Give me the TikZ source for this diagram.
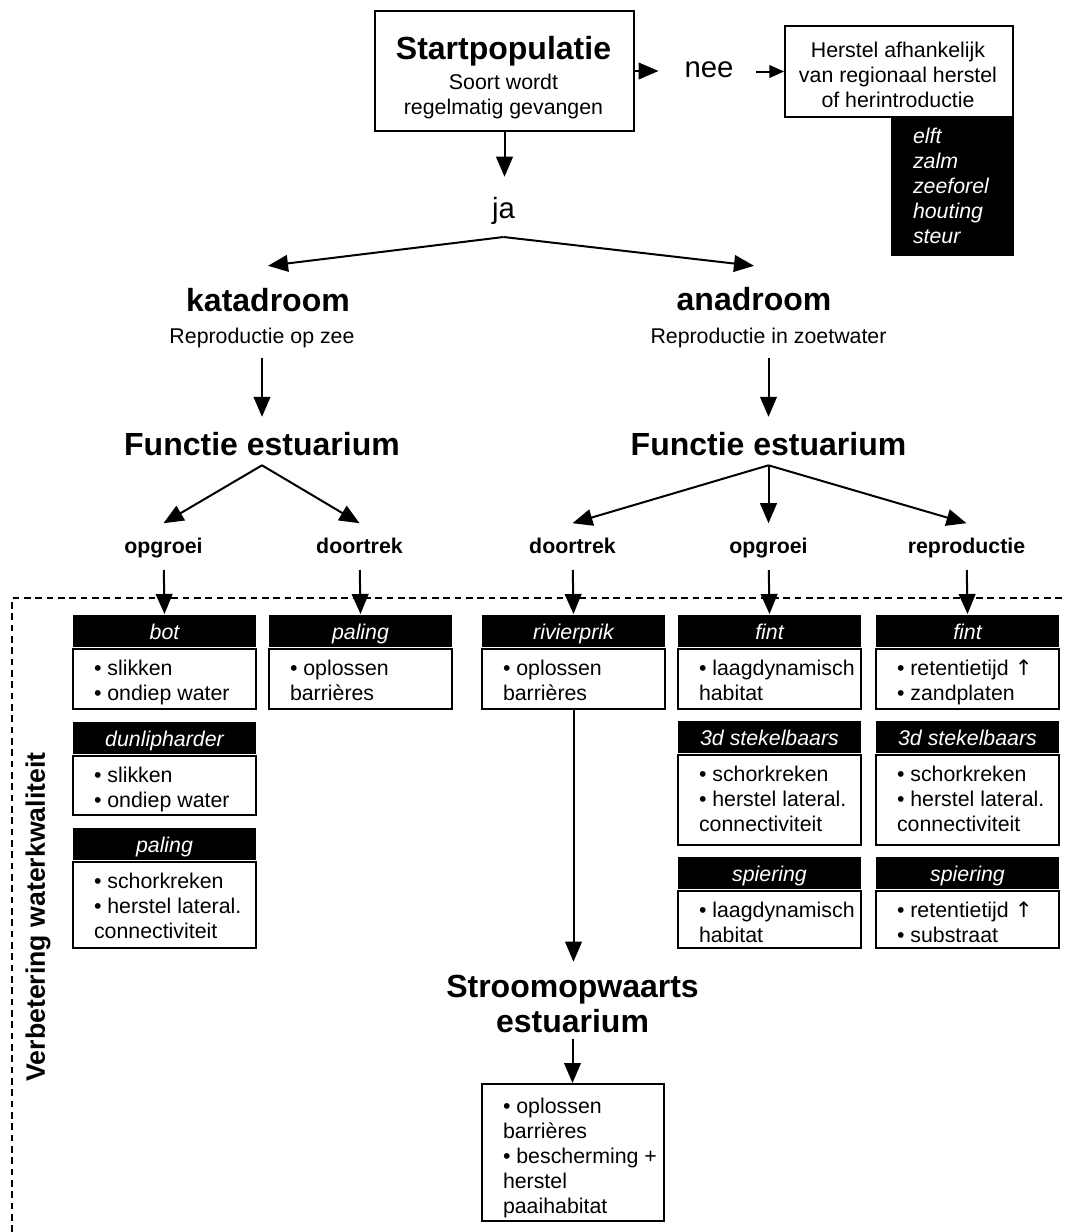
\documentclass[tikz,border=0pt]{standalone}
\usepackage{fontspec}
\setmainfont{Liberation Sans}
\newfontfamily\arrfnt{DejaVu Sans}
\usetikzlibrary{arrows.meta}

\newcommand\fBig{\fontsize{24pt}{28pt}\selectfont\bfseries}
\newcommand\fMed{\fontsize{22pt}{26pt}\selectfont}
\newcommand\fTxt{\fontsize{16pt}{18.75pt}\selectfont}
\newcommand\fLab{\fontsize{16pt}{18.75pt}\selectfont\bfseries}
\newcommand\upar{{\arrfnt ↑}}

% name, left (px), top (px), body height (px), title, body text
\newcommand\fishbox[6]{%
  \node[hdr] (#1h) at (#2,#3) {#5};
  \node[frame, minimum width=137.25pt, minimum height={#4*0.75pt}] (#1b) at (#1h.south west) {};
  \node[bodytext] (#1t) at ([xshift=15.75pt, yshift=-6.375pt]#1b.north west) {\strut #6};
}

\begin{document}
\begin{tikzpicture}[x=0.75pt,y=-0.75pt,
  line width=1.5pt,
  arr/.style={line width=1.5pt, -{Triangle[length=15pt,width=12.5pt]}},
  arrs/.style={line width=1.5pt, -{Triangle[length=11pt,width=9.5pt]}},
  txt/.style={inner sep=0pt, font=\fTxt},
  big/.style={inner sep=0pt, font=\fBig},
  med/.style={inner sep=0pt, font=\fMed},
  lab/.style={inner sep=0pt, font=\fLab},
  frame/.style={draw, line width=1.5pt, inner sep=0pt, anchor=north west},
  hdr/.style={fill=black, text=white, font=\fTxt\itshape, inner sep=0pt, anchor=north west,
    minimum width=137.25pt, minimum height=24pt, text height=13.5pt, text depth=1.5pt},
  bodytext/.style={inner sep=0pt, anchor=north west, align=left, font=\fTxt},
]
\useasboundingbox (0,0) rectangle (1066,1232);

% dashed frame
\draw[dash pattern=on 5pt off 3.5pt, line width=1pt] (12,1232) -- (12,598) -- (1066,598);
\node[inner sep=0pt, font=\fontsize{20pt}{24pt}\selectfont\bfseries, rotate=90] (wq) at (38,917) {Verbetering waterkwaliteit};

% top
\node[frame, minimum width=194.25pt, minimum height=90pt] (start) at (374,10) {};
\node[big, anchor=base] (startT) at (503.5,59) {Startpopulatie};
\node[txt, anchor=base] (startS1) at (503.5,89) {Soort wordt};
\node[txt, anchor=base] (startS2) at (503.5,114) {regelmatig gevangen};

\node[med, anchor=base] (nee) at (709,77) {nee};
\node[frame, minimum width=171pt, minimum height=68.25pt] (herstel) at (784,25) {};
\node[txt, align=center, anchor=north] (herstelT) at (898,38.5) {\strut Herstel afhankelijk\\van regionaal herstel\\of herintroductie};
\node[fill=black, inner sep=0pt, anchor=north east, minimum width=92.25pt, minimum height=103.5pt] (species) at ([yshift=0.75pt,xshift=0.75pt]herstel.south east) {};
\node[txt, text=white, font=\fTxt\itshape, align=left, anchor=north west] (speciesT) at (912,124.5) {\strut elft\\zalm\\zeeforel\\houting\\steur};

\draw[arr, shorten >=18.75pt] (start.east) -- (start.east -| nee.west);
\draw[arrs, shorten <=16.5pt] (nee.east |- herstel.west) -- (herstel.west);

\node[med, anchor=base] (ja) at (503.5,218) {ja};
\draw[arr, shorten >=14.25pt] (start.south) -- (start.south |- ja.north);
\coordinate (fork) at ([yshift=-14.25pt]ja.base);

% katadroom branch
\node[big, anchor=base] (kata) at (268,311) {katadroom};
\node[txt, anchor=base] (kataR) at (262,343) {Reproductie op zee};
\node[big, anchor=base] (funcK) at (262,455) {Functie estuarium};
% anadroom branch
\node[big, anchor=base] (ana) at (754,310) {anadroom};
\node[txt, anchor=base] (anaR) at (768.5,343) {Reproductie in zoetwater};
\node[big, anchor=base] (funcA) at (768.5,455) {Functie estuarium};

\draw[arr] (fork) -- ([yshift=15.75pt]kata.north);
\draw[arr] (fork) -- ([yshift=15pt]ana.north);
\draw[arr, shorten <=7pt, shorten >=10.5pt] (kataR.south) -- (kataR.south |- funcK.north);
\draw[arr, shorten <=7pt, shorten >=10.5pt] (anaR.south) -- (anaR.south |- funcA.north);

% function labels
\node[lab, anchor=base] (lK1) at (163.5,553) {opgroei};
\node[lab, anchor=base] (lK2) at (359.5,553) {doortrek};
\node[lab, anchor=base] (lA1) at (572.5,553) {doortrek};
\node[lab, anchor=base] (lA2) at (768.5,553) {opgroei};
\node[lab, anchor=base] (lA3) at (966.5,553) {reproductie};

\coordinate (forkK) at ([yshift=-6.75pt]funcK.south);
\coordinate (forkA) at ([yshift=-6.75pt]funcA.south);
\draw[arr] (forkK) -- ([yshift=10pt]lK1.north);
\draw[arr] (forkK) -- ([yshift=10pt]lK2.north);
\draw[arr] (forkA) -- ([yshift=10pt]lA1.north);
\draw[arr] (forkA) -- ([yshift=10pt]lA2.north);
\draw[arr] (forkA) -- ([yshift=10pt]lA3.north);

% species boxes
\fishbox{a1}{72}{614}{60}{bot}{• slikken\\• ondiep water}
\fishbox{a2}{72}{721}{59}{dunlipharder}{• slikken\\• ondiep water}
\fishbox{a3}{72}{827}{86}{paling}{• schorkreken\\• herstel lateral.\\connectiviteit}
\fishbox{b1}{268}{614}{60}{paling}{• oplossen\\barrières}
\fishbox{c1}{481}{614}{60}{rivierprik}{• oplossen\\barrières}
\fishbox{d1}{677}{614}{60}{fint}{• laagdynamisch\\habitat}
\fishbox{d2}{677}{720}{90}{3d stekelbaars}{• schorkreken\\• herstel lateral.\\connectiviteit}
\fishbox{d3}{677}{856}{57}{spiering}{• laagdynamisch\\habitat}
\fishbox{e1}{875}{614}{60}{fint}{• retentietijd \upar\\• zandplaten}
\fishbox{e2}{875}{720}{90}{3d stekelbaars}{• schorkreken\\• herstel lateral.\\connectiviteit}
\fishbox{e3}{875}{856}{57}{spiering}{• retentietijd \upar\\• substraat}

\draw[arr, shorten <=12.75pt] (lK1.base) -- (a1h.north);
\draw[arr, shorten <=12.75pt] (lK2.base) -- (b1h.north);
\draw[arr, shorten <=12.75pt] (lA1.base) -- (c1h.north);
\draw[arr, shorten <=12.75pt] (lA2.base) -- (d1h.north);
\draw[arr, shorten <=12.75pt] (lA3.base) -- (e1h.north);

% upstream
\node[big, anchor=base] (stroom) at (572.5,997) {Stroomopwaarts};
\node[big, anchor=base] (stroom2) at (572.5,1032) {estuarium};
\draw[arr, shorten >=9pt] (c1b.south) -- (c1b.south |- stroom.north);
\node[frame, minimum width=136.5pt, minimum height=102.75pt] (up) at (481,1083) {};
\node[bodytext] (upT) at (502,1094.5) {\strut • oplossen\\barrières\\• bescherming +\\herstel\\paaihabitat};
\draw[arr, shorten <=4.5pt] (stroom2.south) -- (stroom2.south |- up.north);
\end{tikzpicture}
\end{document}
